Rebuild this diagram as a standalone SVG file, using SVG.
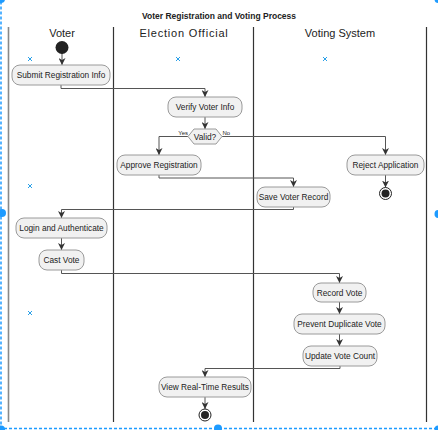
<svg xmlns="http://www.w3.org/2000/svg" width="438" height="430" viewBox="0 0 438 430">
<style>
.t{font-family:"Liberation Sans",Arial,sans-serif;fill:#222}
.title{font-size:8.5px;font-weight:bold;text-anchor:middle}
.hd{font-size:11px;text-anchor:middle}
.bx rect{fill:#f1f1f1;stroke:#9a9a9a;stroke-width:1}
.bx text{font-family:"Liberation Sans",Arial,sans-serif;font-size:8.3px;fill:#222;text-anchor:middle}
.lane{stroke:#333;stroke-width:1.2}
.c path{fill:none;stroke:#555;stroke-width:1;marker-end:url(#ah)}
.sel{fill:none;stroke:#1e9bff;stroke-width:1.5;stroke-dasharray:3,2}
.hdl{fill:#1e9bff}
.xm{stroke:#2aa0e8;stroke-width:1}
.lbl{font-family:"Liberation Sans",Arial,sans-serif;font-size:6px;fill:#222}
</style>
<defs>
<marker id="ah" viewBox="0 0 10 10" refX="10" refY="5" markerWidth="7" markerHeight="7" markerUnits="userSpaceOnUse" orient="auto">
<path d="M0,0 L10,5 L0,10 L3,5 z" fill="#333"/>
</marker>
</defs>
<rect width="438" height="430" fill="#fff"/>
<text class="t title" x="219" y="19">Voter Registration and Voting Process</text>
<g id="lanes">
<line x1="8.5" y1="27" x2="8.5" y2="422" stroke="#888" stroke-width="1.6"/>
<line class="lane" x1="113.5" y1="27" x2="113.5" y2="422"/>
<line class="lane" x1="253.5" y1="27" x2="253.5" y2="422"/>
<line class="lane" x1="426.5" y1="27" x2="426.5" y2="422"/>
<text class="t hd" x="62" y="37">Voter</text>
<text class="t hd" x="184" y="37" letter-spacing="0.8">Election Official</text>
<text class="t hd" x="340" y="37">Voting System</text>
</g>
<g id="marks">
<path class="xm" d="M28,57 l4,4 M32,57 l-4,4 M176,57 l4,4 M180,57 l-4,4 M323,57 l4,4 M327,57 l-4,4 M28,184 l4,4 M32,184 l-4,4 M28,311 l4,4 M32,311 l-4,4"/>
</g>
<g id="connectors" class="c">
<path d="M62,53 V65"/>
<path d="M61,85 V88.5 H205 V97"/>
<path d="M205,117 V129"/>
<path d="M188,136.5 H159 V155"/>
<path d="M222,136.5 H385.5 V155"/>
<path d="M385.5,175 V187.5"/>
<path d="M159,175 V178 H293.5 V187"/>
<path d="M293.5,207 V209.5 H61.5 V218"/>
<path d="M61.5,238 V250"/>
<path d="M61.5,270 V273.5 H339.5 V283"/>
<path d="M339.5,302 V314"/>
<path d="M339.5,334 V346"/>
<path d="M340,366 V368.5 H205 V377"/>
<path d="M205,397 V409"/>
</g>
<g id="start"><circle cx="62" cy="47.5" r="6.5" fill="#222"/></g>
<g id="submit" class="bx"><rect x="12" y="65" width="98" height="20" rx="8"/><text x="61" y="78">Submit Registration Info</text></g>
<g id="verify" class="bx"><rect x="168" y="97" width="74" height="20" rx="8"/><text x="205" y="110">Verify Voter Info</text></g>
<g id="valid" class="bx"><path d="M188,136.5 L194,129 H216 L222,136.5 L216,144 H194 Z" fill="#f1f1f1" stroke="#9a9a9a"/><text x="205" y="139.5">Valid?</text></g>
<g id="labels"><text class="lbl" x="188" y="134.5" text-anchor="end">Yes</text><text class="lbl" x="222.5" y="134.5">No</text></g>
<g id="approve" class="bx"><rect x="117" y="155" width="84" height="20" rx="8"/><text x="159" y="168">Approve Registration</text></g>
<g id="reject" class="bx"><rect x="347" y="155" width="77" height="20" rx="8"/><text x="385.5" y="168">Reject Application</text></g>
<g id="end1"><circle cx="385.5" cy="193.5" r="6" fill="#fff" stroke="#222" stroke-width="1"/><circle cx="385.5" cy="193.5" r="4" fill="#222"/></g>
<g id="save" class="bx"><rect x="257" y="187" width="73" height="20" rx="8"/><text x="293.5" y="200">Save Voter Record</text></g>
<g id="login" class="bx"><rect x="16" y="218" width="91" height="20" rx="8"/><text x="61.5" y="231">Login and Authenticate</text></g>
<g id="cast" class="bx"><rect x="39" y="250" width="45" height="20" rx="8"/><text x="61.5" y="263">Cast Vote</text></g>
<g id="record" class="bx"><rect x="313" y="283" width="53" height="19" rx="8"/><text x="339.5" y="295.5">Record Vote</text></g>
<g id="prevent" class="bx"><rect x="294" y="314" width="91" height="20" rx="8"/><text x="339.5" y="327">Prevent Duplicate Vote</text></g>
<g id="update" class="bx"><rect x="303" y="346" width="74" height="20" rx="8"/><text x="340" y="359">Update Vote Count</text></g>
<g id="view" class="bx"><rect x="159" y="377" width="92" height="20" rx="8"/><text x="205" y="390">View Real-Time Results</text></g>
<g id="end2"><circle cx="205" cy="415" r="6" fill="#fff" stroke="#222" stroke-width="1"/><circle cx="205" cy="415" r="4" fill="#222"/></g>
<g id="selection">
<rect class="sel" x="1" y="-1.5" width="438" height="430"/>
<circle class="hdl" cx="1" cy="-1" r="4"/>
<circle class="hdl" cx="438.5" cy="-1" r="4"/>
<circle class="hdl" cx="2" cy="213" r="4"/>
<circle class="hdl" cx="438.5" cy="214" r="4"/>
<circle class="hdl" cx="218" cy="428.5" r="4"/>
<circle class="hdl" cx="1" cy="429.5" r="4"/>
<circle class="hdl" cx="438.5" cy="429.5" r="4"/>
</g>
</svg>
